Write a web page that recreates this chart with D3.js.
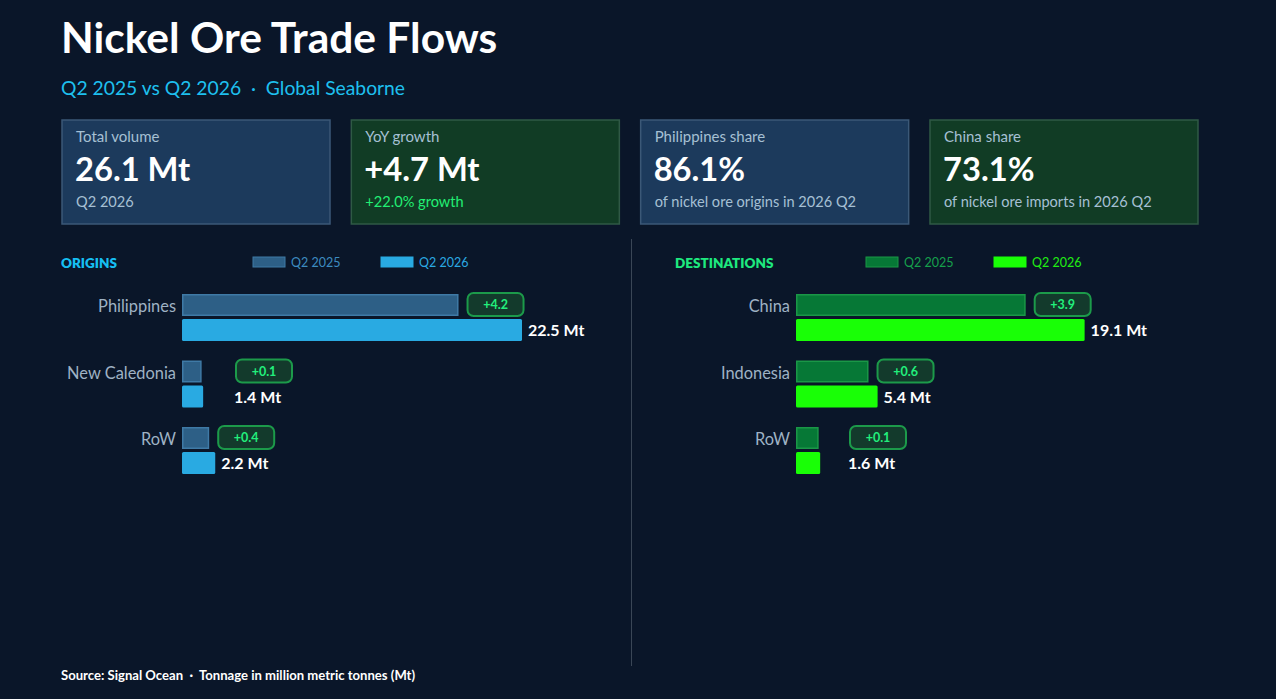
<!DOCTYPE html>
<html>
<head>
<meta charset="utf-8">
<script src="https://cdn.jsdelivr.net/npm/d3@7"></script>
<style>
  html, body { margin: 0; padding: 0; background: #0a1629; }
  svg { display: block; font-family: Lato, "Open Sans", sans-serif; }
</style>
</head>
<body>
<svg id="chart"></svg>
<script>
// data
var originNames = ["Philippines", "New Caledonia", "RoW"];
var origin2025 = [18.3, 1.3, 1.8];
var origin2026 = [22.5, 1.4, 2.2];

var destNames = ["China", "Indonesia", "RoW"];
var dest2025 = [15.2, 4.8, 1.5];
var dest2026 = [19.1, 5.4, 1.6];

var cardLabels = ["Total volume", "YoY growth", "Philippines share", "China share"];
var cardValues = ["26.1 Mt", "+4.7 Mt", "86.1%", "73.1%"];
var cardNotes = ["Q2 2026", "+22.0% growth", "of nickel ore origins in 2026 Q2", "of nickel ore imports in 2026 Q2"];

var width = 1276;
var height = 699;

var svg = d3.select("#chart")
    .attr("width", width)
    .attr("height", height);

svg.append("rect").attr("width", width).attr("height", height).attr("fill", "#0a1629");

// title block
svg.append("text")
    .attr("x", 61).attr("y", 53)
    .attr("fill", "#ffffff")
    .attr("font-size", 42.5).attr("font-weight", 700)
    .text("Nickel Ore Trade Flows");
svg.append("text")
    .attr("x", 61).attr("y", 95)
    .attr("fill", "#1ec0ef")
    .attr("font-size", 19.3)
    .attr("xml:space", "preserve")
    .text("Q2 2025 vs Q2 2026  \u00b7  Global Seaborne");

// KPI cards
var cardX = d3.scaleBand().domain(d3.range(4)).range([62, 1198]).paddingInner(0.0737);
var cardStyle = [
    { fill: "#1c3a5c", stroke: "#3b5877" },
    { fill: "#113c25", stroke: "#2f5945" },
    { fill: "#1c3a5c", stroke: "#3b5877" },
    { fill: "#113c25", stroke: "#2f5945" }
];
var cards = svg.append("g").selectAll("g")
    .data(cardLabels)
    .enter().append("g")
    .attr("transform", function (d, i) { return "translate(" + cardX(i) + ",120)"; });
cards.append("rect")
    .attr("width", cardX.bandwidth()).attr("height", 104)
    .attr("fill", function (d, i) { return cardStyle[i].fill; })
    .attr("stroke", function (d, i) { return cardStyle[i].stroke; })
    .attr("stroke-width", 1.5);
cards.append("text")
    .attr("x", 14).attr("y", 22)
    .attr("fill", "#a6c0d4").attr("font-size", 15)
    .text(function (d) { return d; });
cards.append("text")
    .attr("x", 13).attr("y", 61)
    .attr("fill", "#ffffff").attr("font-size", 32.7).attr("font-weight", 700)
    .text(function (d, i) { return cardValues[i]; });
cards.append("text")
    .attr("x", 14).attr("y", 87)
    .attr("fill", function (d, i) { return i === 1 ? "#22ef74" : "#a6c0d4"; })
    .attr("font-size", 14.6)
    .text(function (d, i) { return cardNotes[i]; });

// divider
svg.append("line")
    .attr("x1", 631.5).attr("x2", 631.5)
    .attr("y1", 239).attr("y2", 666)
    .attr("stroke", "#3a4656").attr("stroke-width", 1);

// shared value scale for both panels
var allValues = origin2025.concat(origin2026, dest2025, dest2026);
var xScale = d3.scaleLinear()
    .domain([0, d3.max(allValues)])
    .range([0, 340]);

var yBand = d3.scaleBand()
    .domain(d3.range(3))
    .range([294, 294 + 3 * 66.5]);

// short bars push their label/badge out past a fixed gutter
function labelX(w) { return w < 30 ? 52 : w + 6; }
function badgeX(w) { return w < 25 ? 54 : w + 9; }

function drawPanel(opt) {
    var g = svg.append("g");

    g.append("text")
        .attr("x", opt.x0).attr("y", 268)
        .attr("fill", opt.heading).attr("font-size", 13.5).attr("font-weight", 800)
        .text(opt.title);

    // legend
    var leg = [
        { label: "Q2 2025", fill: opt.fill25, stroke: opt.stroke25, text: opt.text25, x: opt.legX },
        { label: "Q2 2026", fill: opt.fill26, stroke: opt.fill26, text: opt.text26, x: opt.legX + 128 }
    ];
    var lg = g.selectAll(".leg").data(leg).enter().append("g")
        .attr("transform", function (d) { return "translate(" + d.x + ",257)"; });
    lg.append("rect")
        .attr("width", 32).attr("height", 10)
        .attr("fill", function (d) { return d.fill; })
        .attr("stroke", function (d) { return d.stroke; })
        .attr("stroke-width", 1);
    lg.append("text")
        .attr("x", 38).attr("y", 10)
        .attr("fill", function (d) { return d.text; })
        .attr("font-size", 12.5)
        .text(function (d) { return d.label; });

    var rows = g.selectAll(".row").data(opt.names).enter().append("g")
        .attr("transform", function (d, i) { return "translate(0," + yBand(i) + ")"; });

    rows.append("text")
        .attr("x", opt.barX - 6).attr("y", 18)
        .attr("text-anchor", "end")
        .attr("fill", "#9fb2c4").attr("font-size", 16.4)
        .text(function (d) { return d; });

    rows.append("rect")
        .attr("x", opt.barX + 0.75).attr("y", 0.75)
        .attr("width", function (d, i) { return xScale(opt.v25[i]) - 1.5; })
        .attr("height", 20.5)
        .attr("fill", opt.fill25)
        .attr("stroke", opt.stroke25).attr("stroke-width", 1.5);

    rows.append("rect")
        .attr("x", opt.barX).attr("y", 25)
        .attr("width", function (d, i) { return xScale(opt.v26[i]); })
        .attr("height", 22)
        .attr("rx", 1.5)
        .attr("fill", opt.fill26);

    rows.append("text")
        .attr("x", function (d, i) { return opt.barX + labelX(xScale(opt.v26[i])); })
        .attr("y", 42)
        .attr("fill", "#ffffff").attr("font-size", 16).attr("font-weight", 700)
        .text(function (d, i) { return d3.format(".1f")(opt.v26[i]) + " Mt"; });

    // change badges
    var badge = rows.append("g")
        .attr("transform", function (d, i) {
            return "translate(" + (opt.barX + badgeX(xScale(opt.v25[i]))) + ",-1)";
        });
    badge.append("rect")
        .attr("width", 56).attr("height", 23).attr("rx", 6)
        .attr("fill", "#133a2c").attr("stroke", "#1c9a4a").attr("stroke-width", 2);
    badge.append("text")
        .attr("x", 28).attr("y", 16)
        .attr("text-anchor", "middle")
        .attr("fill", "#22ef7c").attr("font-size", 12.5).attr("font-weight", 700)
        .text(function (d, i) { return d3.format("+.1f")(opt.v26[i] - opt.v25[i]); });
}

drawPanel({
    title: "ORIGINS", x0: 61, barX: 182, legX: 253,
    names: originNames, v25: origin2025, v26: origin2026,
    heading: "#16bff2",
    fill25: "#2d5f86", stroke25: "#3f7aa6", text25: "#3d8cc0",
    fill26: "#29aae2", text26: "#2aa9e2"
});

drawPanel({
    title: "DESTINATIONS", x0: 675, barX: 796, legX: 866,
    names: destNames, v25: dest2025, v26: dest2026,
    heading: "#1ee97f",
    fill25: "#067836", stroke25: "#1a9747", text25: "#16a04c",
    fill26: "#19ff06", text26: "#21ee12"
});

// footer
svg.append("text")
    .attr("x", 61).attr("y", 680)
    .attr("fill", "#ffffff").attr("font-size", 13.1).attr("font-weight", 700)
    .attr("xml:space", "preserve")
    .text("Source: Signal Ocean  \u00b7  Tonnage in million metric tonnes (Mt)");
</script>
</body>
</html>
